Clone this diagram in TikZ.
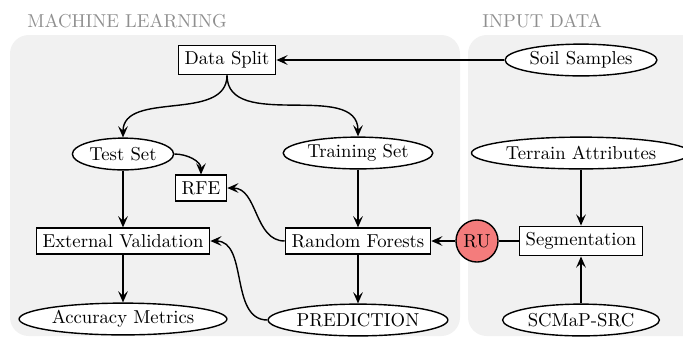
\documentclass[tikz,border=0pt]{standalone}
\usepackage{tikz}
\usetikzlibrary{shapes.geometric,positioning,arrows.meta}

\definecolor{panelGray}{HTML}{F1F1F1}
\definecolor{labelGray}{HTML}{8F8F8F}
\definecolor{ruRed}{HTML}{F47C7C}

\begin{document}
\begin{tikzpicture}[x=0.535pt, y=-0.535pt,
                    mlbox/.style={draw, fill=white, line width=0.75pt},
                    mlell/.style={draw, fill=white, line width=0.75pt, ellipse,
                                  inner sep=1.2pt, minimum height=17pt},
                    ruball/.style={draw, line width=0.75pt, circle, fill=ruRed,
                                   inner sep=1pt, minimum size=22.5pt},
                    panel/.style={fill=panelGray, rounded corners=10pt},
                    paneltitle/.style={text=labelGray, anchor=west, inner sep=0pt},
                    arr/.style={-{Stealth[length=6pt, width=5.2pt, inset=2.4pt]},
                                line width=0.75pt}
                ]
                    \useasboundingbox (0,0) rectangle (683,338);
                    % panels
                    \fill[panel] (10,35) rectangle (460,336);
                    \fill[panel] (468,35) rectangle (720,336);
                    \node[paneltitle] (mltitle) at (27,21) {MACHINE LEARNING};
                    \node[paneltitle] (intitle) at (482,21) {INPUT DATA};
                    % machine learning side
                    \node[mlbox] (split) at (227,60) {Data Split};
                    \node[mlell] (test) at (123,154) {Test Set};
                    \node[mlell] (train) at (358,153) {Training Set};
                    \node[mlbox] (rfe) at (201,188) {RFE};
                    \node[mlbox] (extval) at (123,241) {External Validation};
                    \node[mlbox] (rf) at (358,241) {Random Forests};
                    \node[mlell] (acc) at (123,319) {Accuracy Metrics};
                    \node[mlell] (pred) at (358,320) {PREDICTION};
                    % input data side
                    \node[mlell] (soil) at (581,60) {Soil Samples};
                    \node[mlell] (terrain) at (581,153) {Terrain Attributes};
                    \node[mlbox] (seg) at (581,241) {Segmentation};
                    \node[ruball] (ru) at (477,241) {RU};
                    \node[mlell] (scmap) at (581,320) {SCMaP-SRC};
                    % connectors
                    \draw[arr] (soil) -- (split);
                    \draw[arr] (split.south) to[out=-90, in=90] (test.north);
                    \draw[arr] (split.south) to[out=-90, in=90] (train.north);
                    \draw[arr] (test.east) to[out=0, in=90] (rfe.north);
                    \draw[arr] (test) -- (extval);
                    \draw[arr] (train) -- (rf);
                    \draw[arr] (rf.west) to[out=180, in=0] (rfe.east);
                    \draw[arr] (rf) -- (pred);
                    \draw[arr] (pred.west) to[out=180, in=0] (extval.east);
                    \draw[arr] (extval) -- (acc);
                    \draw[line width=0.75pt] (seg) -- (ru);
                    \draw[arr] (ru) -- (rf);
                    \draw[arr] (terrain) -- (seg);
                    \draw[arr] (scmap) -- (seg);
                \end{tikzpicture}
\end{document}
